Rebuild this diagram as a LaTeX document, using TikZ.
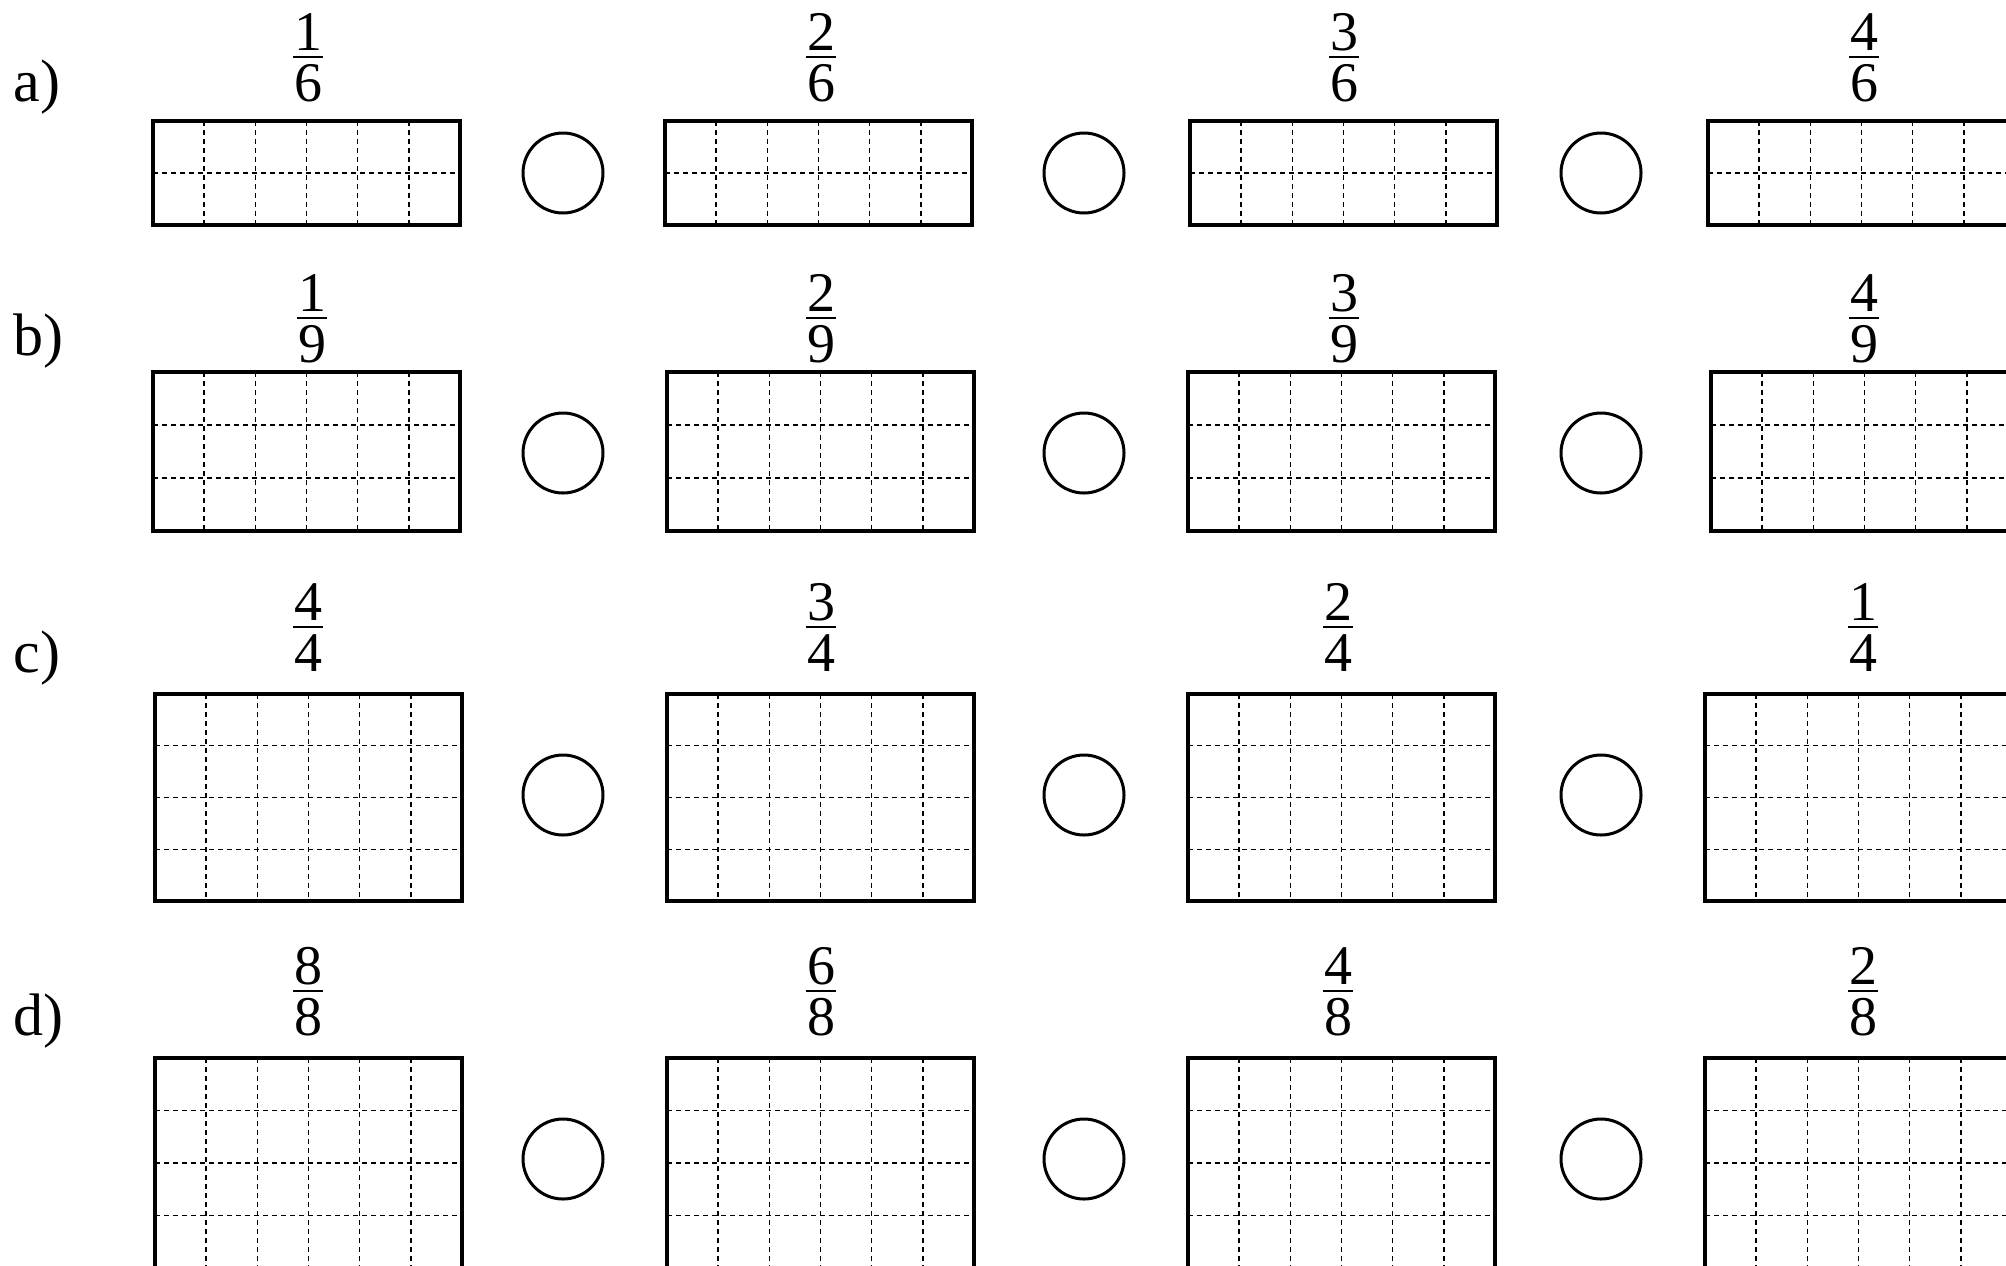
\documentclass[tikz,border=0pt]{standalone}
\usepackage{fontspec}
\setmainfont{Liberation Serif}
\tikzset{
  digit/.style={font=\fontsize{28}{28}\selectfont, inner sep=0pt, anchor=base},
  lbl/.style={font=\fontsize{30}{30}\selectfont, inner sep=0pt, anchor=base west},
  fracbar/.style={line width=1.2pt},
  gridline/.style={line width=0.7pt, dash pattern=on 2.5pt off 2pt},
  frame/.style={line width=1.6pt, line join=miter},
  ring/.style={circle, draw, line width=1.5pt, minimum size=40pt, inner sep=0pt}
}
% #1 x left, #2 y top, #3 rows, #4 row height
\newcommand{\gridbox}[4]{%
  \draw[gridline] foreach \i in {1,...,5} {(#1+\i*51.1667,#2) -- ++(0,#3*#4)};
  \draw[gridline] foreach \j in {2,...,#3} {(#1,#2+\j*#4-#4) -- ++(307,0)};
  \draw[frame] (#1,#2) rectangle ++(307,#3*#4);
}
% #1 name, #2 x, #3 bar y, #4 numerator, #5 denominator
\newcommand{\fracat}[5]{%
  \node[digit] (#1n) at (#2,#3-7) {#4};
  \node[digit] (#1d) at (#2,#3+44) {#5};
  \draw[fracbar] (#2-15,#3) -- (#2+15,#3);
}
\begin{document}
\begin{tikzpicture}[x=0.5pt,y=-0.5pt]
\useasboundingbox (0,0) rectangle (2006,1265);
\clip (0,0) rectangle (2006,1265);

% labels
\node[lbl] (la) at (13,101) {a)};
\node[lbl] (lb) at (13,355) {b)};
\node[lbl] (lc) at (13,672) {c)};
\node[lbl] (ld) at (13,1035) {d)};

% row a
\fracat{a1}{308}{57}{1}{6}
\fracat{a2}{821}{57}{2}{6}
\fracat{a3}{1344}{57}{3}{6}
\fracat{a4}{1864}{57}{4}{6}
\gridbox{153}{121}{2}{52}
\gridbox{665}{121}{2}{52}
\gridbox{1190}{121}{2}{52}
\gridbox{1708}{121}{2}{52}
\node[ring] (ca1) at (563,173) {};
\node[ring] (ca2) at (1084,173) {};
\node[ring] (ca3) at (1601,173) {};

% row b
\fracat{b1}{312}{318}{1}{9}
\fracat{b2}{821}{318}{2}{9}
\fracat{b3}{1344}{318}{3}{9}
\fracat{b4}{1864}{318}{4}{9}
\gridbox{153}{372}{3}{53}
\gridbox{667}{372}{3}{53}
\gridbox{1188}{372}{3}{53}
\gridbox{1711}{372}{3}{53}
\node[ring] (cb1) at (563,453) {};
\node[ring] (cb2) at (1084,453) {};
\node[ring] (cb3) at (1601,453) {};

% row c
\fracat{c1}{308}{627}{4}{4}
\fracat{c2}{821}{627}{3}{4}
\fracat{c3}{1338}{627}{2}{4}
\fracat{c4}{1863}{627}{1}{4}
\gridbox{155}{694}{4}{51.75}
\gridbox{667}{694}{4}{51.75}
\gridbox{1188}{694}{4}{51.75}
\gridbox{1705}{694}{4}{51.75}
\node[ring] (cc1) at (563,795) {};
\node[ring] (cc2) at (1084,795) {};
\node[ring] (cc3) at (1601,795) {};

% row d
\fracat{d1}{308}{991}{8}{8}
\fracat{d2}{821}{991}{6}{8}
\fracat{d3}{1338}{991}{4}{8}
\fracat{d4}{1863}{991}{2}{8}
\gridbox{155}{1058}{4}{52.4}
\gridbox{667}{1058}{4}{52.4}
\gridbox{1188}{1058}{4}{52.4}
\gridbox{1705}{1058}{4}{52.4}
\node[ring] (cd1) at (563,1159) {};
\node[ring] (cd2) at (1084,1159) {};
\node[ring] (cd3) at (1601,1159) {};
\end{tikzpicture}
\end{document}
